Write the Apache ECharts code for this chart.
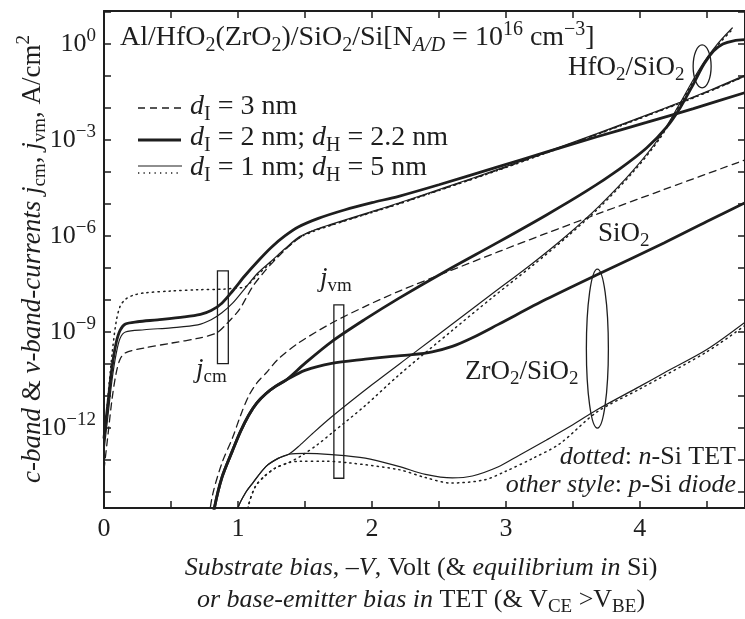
<!DOCTYPE html>
<html><head><meta charset="utf-8">
<script src="https://cdn.jsdelivr.net/npm/echarts@6/dist/echarts.min.js"></script>
<style>html,body{margin:0;padding:0;background:#fff}#c{width:745px;height:619px}</style>
</head><body><div id="c"></div>
<script>
// ---- data: [bias (V), log10(current density, A/cm^2)] ----
const xTickLabels = [0, 1, 2, 3, 4];
const yTickExps = [-14,-13,-12,-11,-10,-9,-8,-7,-6,-5,-4,-3,-2,-1,0,1];
const yLabelExps = [-12, -9, -6, -3, 0];

// c-band currents j_cm
const cmThick2 = [[0,-12.3],[0.03,-11.2],[0.06,-10.1],[0.09,-9.35],[0.12,-8.95],[0.16,-8.75],[0.25,-8.68],[0.4,-8.62],[0.6,-8.53],[0.72,-8.45],[0.8,-8.33],[0.88,-8.1],[0.96,-7.72],[1.05,-7.25],[1.15,-6.78],[1.25,-6.35],[1.35,-6.0],[1.45,-5.72],[1.6,-5.45],[1.8,-5.18],[2.0,-4.96],[2.2,-4.76],[2.5,-4.4],[2.94,-3.84],[3.3,-3.38],[3.68,-2.9],[4.05,-2.45],[4.4,-2.02],[4.8,-1.5]];
const cmThin1 = [[0,-12.7],[0.03,-11.6],[0.06,-10.5],[0.09,-9.7],[0.12,-9.2],[0.16,-9.0],[0.3,-8.93],[0.5,-8.87],[0.7,-8.78],[0.8,-8.62],[0.88,-8.4],[0.96,-8.1],[1.05,-7.65],[1.15,-7.15],[1.25,-6.78],[1.35,-6.4],[1.46,-6.02],[1.58,-5.8],[1.7,-5.63],[1.95,-5.3],[2.2,-4.97],[2.57,-4.45],[2.94,-3.92],[3.3,-3.38],[3.68,-2.8],[4.0,-2.3],[4.3,-1.82],[4.55,-1.4],[4.8,-0.95]];
const cmDash3 = [[0,-13.3],[0.03,-12.2],[0.06,-11.1],[0.09,-10.3],[0.12,-9.85],[0.16,-9.65],[0.3,-9.5],[0.5,-9.35],[0.71,-9.19],[0.84,-9.03],[0.91,-8.77],[1.01,-8.3],[1.11,-7.58],[1.2,-7.1],[1.3,-6.65],[1.4,-6.25],[1.5,-5.95],[1.6,-5.78],[1.7,-5.65],[1.95,-5.32],[2.2,-4.99],[2.57,-4.47],[2.94,-3.94],[3.3,-3.4],[3.68,-2.82],[4.0,-2.32],[4.3,-1.84],[4.55,-1.42],[4.8,-0.98]];
const cmDot1 = [[0,-12.5],[0.03,-11.0],[0.06,-9.7],[0.09,-8.7],[0.12,-8.2],[0.16,-7.98],[0.22,-7.85],[0.3,-7.78],[0.5,-7.72],[0.7,-7.68],[0.9,-7.66],[1.0,-7.62],[1.05,-7.6],[1.15,-7.2],[1.25,-6.82],[1.35,-6.43],[1.46,-6.05],[1.58,-5.83],[1.7,-5.66],[1.95,-5.33],[2.2,-5.0],[2.57,-4.48],[2.94,-3.95],[3.3,-3.41],[3.68,-2.83],[4.0,-2.33],[4.3,-1.85],[4.55,-1.43],[4.8,-0.98]];

// v-band currents j_vm
const vmDash3 = [[0.77,-15.2],[0.81,-14.1],[0.88,-13.1],[0.96,-12.3],[1.02,-11.6],[1.08,-11.0],[1.14,-10.6],[1.21,-10.28],[1.3,-9.85],[1.45,-9.35],[1.7,-8.72],[1.95,-8.2],[2.2,-7.73],[2.57,-7.11],[2.94,-6.5],[3.3,-5.92],[3.68,-5.32],[4.18,-4.55],[4.8,-3.6]];
const vmThickShared = [[0.8,-15.2],[0.824,-14.5],[0.88,-13.55],[0.96,-12.7],[1.02,-12.1],[1.08,-11.6],[1.14,-11.22],[1.21,-10.92],[1.28,-10.7],[1.36,-10.5]];
const vmThickHfTail = [[1.5,-9.98],[1.7,-9.3],[1.95,-8.6],[2.2,-7.95],[2.55,-7.1],[2.94,-6.2],[3.3,-5.35],[3.6,-4.6],[3.85,-3.9],[4.05,-3.25],[4.2,-2.6],[4.3,-2.0],[4.4,-1.25],[4.48,-0.62],[4.55,-0.22],[4.62,0.0],[4.7,0.1],[4.8,0.14]];
const vmThickZrTail = [[1.5,-10.2],[1.7,-9.98],[1.95,-9.85],[2.15,-9.76],[2.3,-9.71],[2.45,-9.62],[2.6,-9.45],[2.75,-9.18],[2.94,-8.77],[3.3,-7.98],[3.68,-7.21],[4.18,-6.22],[4.5,-5.55],[4.8,-4.93]];
const vmThinShared = [[0.98,-15.2],[1.0,-14.5],[1.06,-14.0],[1.11,-13.72],[1.21,-13.2],[1.3,-12.95],[1.38,-12.82]];
const vmThinHfTail = [[1.46,-12.55],[1.55,-12.2],[1.7,-11.65],[2.0,-10.65],[2.3,-9.7],[2.6,-8.75],[2.9,-7.8],[3.2,-6.85],[3.45,-6.0],[3.7,-5.05],[3.95,-3.95],[4.15,-2.9],[4.3,-1.85],[4.45,-0.75],[4.58,0.0],[4.69,0.5]];
const vmThinZrTail = [[1.5,-12.79],[1.7,-12.83],[1.95,-12.94],[2.2,-13.2],[2.4,-13.45],[2.6,-13.56],[2.75,-13.5],[2.94,-13.22],[3.1,-12.85],[3.3,-12.38],[3.5,-11.9],[3.68,-11.43],[4.0,-10.7],[4.18,-10.28],[4.5,-9.55],[4.8,-8.65]];
const vmDotShared = [[1.05,-15.2],[1.08,-14.4],[1.13,-13.83],[1.2,-13.5],[1.28,-13.25],[1.38,-13.08]];
const vmDotHfTail = [[1.48,-12.85],[1.6,-12.5],[1.7,-12.16],[1.95,-11.3],[2.2,-10.35],[2.6,-8.95],[2.9,-7.92],[3.2,-6.92],[3.45,-6.05],[3.7,-5.1],[3.95,-4.0],[4.15,-2.95],[4.3,-1.9],[4.45,-0.8],[4.58,-0.05],[4.69,0.45]];
const vmDotZrTail = [[1.46,-13.04],[1.65,-13.04],[1.83,-13.09],[2.2,-13.3],[2.4,-13.55],[2.59,-13.72],[2.84,-13.62],[3.0,-13.35],[3.2,-12.95],[3.4,-12.5],[3.68,-11.5],[4.0,-10.78],[4.5,-9.62],[4.8,-8.75]];

// ---- styling ----
const C = '#1e1e1e';
const F = 'Liberation Serif';
const mkRich = fs => {
  const ss = Math.round(fs * 0.72);
  const pd = Math.round(fs * 0.55), pu = Math.round(fs * 0.62);
  return {
    n:  {fontFamily:F, fontSize:fs, color:C},
    i:  {fontFamily:F, fontSize:fs, fontStyle:'italic', color:C},
    sb: {fontFamily:F, fontSize:ss, color:C, padding:[pd,0,0,0]},
    si: {fontFamily:F, fontSize:ss, fontStyle:'italic', color:C, padding:[pd,0,0,0]},
    sp: {fontFamily:F, fontSize:ss, color:C, padding:[0,0,pu,0]}
  };
};
const R = parts => parts.map(p => '{' + p[0] + '|' + p[1] + '}').join('');

const THICK = 2.8, THIN = 1.2;
const ser = (data, w, type) => ({
  type:'line', data, showSymbol:false, symbol:'none', smooth:0.3,
  lineStyle:{color:C, width:w, type:type || 'solid', cap:'round'}, silent:true, clip:true, z:3
});
const DASH = [7,5], DOT = [1.3,4.2];

const axisCommon = {
  axisLine:{show:true, onZero:false, lineStyle:{color:C, width:2}},
  splitLine:{show:false}
};
const XMAX = 4.785;

const option = {
  animation:false,
  backgroundColor:'#fff',
  grid:{left:104, top:11, right:-3, bottom:111},
  xAxis:[
    Object.assign({type:'value', min:0, max:XMAX, interval:0.5, position:'bottom',
      axisTick:{inside:true, length:7, lineStyle:{color:C, width:1.5}},
      axisLabel:{margin:8, fontFamily:F, fontSize:26, color:C, showMaxLabel:false,
        formatter: v => xTickLabels.includes(v) ? String(v) : ''}}, axisCommon),
    Object.assign({type:'value', min:0, max:XMAX, interval:0.5, position:'top',
      axisTick:{inside:true, length:7, lineStyle:{color:C, width:1.5}},
      axisLabel:{show:false}}, axisCommon)
  ],
  yAxis:[
    Object.assign({type:'value', min:-14.5, max:1.03, position:'left',
      axisTick:{inside:true, length:7, customValues:yTickExps, lineStyle:{color:C, width:1.5}},
      axisLabel:{margin:8, customValues:yLabelExps, rich:{
          b:{fontFamily:F, fontSize:26, color:C},
          s:{fontFamily:F, fontSize:19, color:C, padding:[0,0,16,0]}},
        formatter: v => '{b|10}{s|' + (v < 0 ? '\u2212' + (-v) : v) + '}'}}, axisCommon),
    Object.assign({type:'value', min:-14.5, max:1.03, position:'right',
      axisTick:{inside:true, length:7, customValues:yTickExps, lineStyle:{color:C, width:1.5}},
      axisLabel:{show:false}}, axisCommon)
  ],
  series:[
    ser(cmThick2, THICK),
    ser(cmThin1, THIN),
    ser(cmDash3, 1.3, DASH),
    ser(cmDot1, 1.5, DOT),
    ser(vmDash3, 1.3, DASH),
    ser(vmThickShared.concat(vmThickHfTail), THICK),
    ser(vmThickShared.concat(vmThickZrTail), THICK),
    ser(vmThinShared.concat(vmThinHfTail), THIN),
    ser(vmThinShared.concat(vmThinZrTail), THIN),
    ser(vmDotShared.concat(vmDotHfTail), 1.5, DOT),
    ser(vmDotShared.concat(vmDotZrTail), 1.5, DOT)
  ]
};

const chart = echarts.init(document.getElementById('c'), null, {renderer:'canvas'});
chart.setOption(option);

// ---- annotations (placed in data coordinates) ----
const P = (x, y) => chart.convertToPixel({gridIndex:0}, [x, y]);
const txt = (x, y, fs, parts, align, extra) => Object.assign({
  type:'text', x, y, z:10, silent:true,
  style:{text:R(parts), rich:mkRich(fs), align:align || 'left', verticalAlign:'middle',
         textAlign:align || 'left', textVerticalAlign:'middle', fill:C}
}, extra || {});
const lineG = (x1, y1, x2, y2, w, dash) => ({type:'line', z:10, silent:true,
  shape:{x1, y1, x2, y2}, style:{stroke:C, lineWidth:w, lineDash:dash || null}});

const rectCm = [0.847, 0.928, -7.09, -9.99];
const rectVm = [1.716, 1.79, -8.15, -13.57];
const ellHf = [4.465, -0.7, 9, 21.5];
const ellZr = [3.683, -9.52, 11, 79.5];

const rectG = r => { const a = P(r[0], r[2]), b = P(r[1], r[3]);
  return {type:'rect', z:10, silent:true, shape:{x:a[0], y:a[1], width:b[0]-a[0], height:b[1]-a[1]},
    style:{fill:'none', stroke:C, lineWidth:1.3}}; };
const ellG = e => { const c = P(e[0], e[1]);
  return {type:'ellipse', z:10, silent:true, shape:{cx:c[0], cy:c[1], rx:e[2], ry:e[3]},
    style:{fill:'none', stroke:C, lineWidth:1.3}}; };

const graphics = [
  txt(120, 38, 28, [['n','Al/HfO'],['sb','2'],['n','(ZrO'],['sb','2'],['n',')/SiO'],['sb','2'],['n','/Si[N'],['si','A/D'],['n',' = 10'],['sp','16'],['n',' cm'],['sp','\u22123'],['n',']']]),
  lineG(138, 108, 181, 108, 1.3, DASH),
  lineG(138, 140, 181, 140, THICK),
  lineG(138, 166, 182, 166, THIN),
  lineG(138, 173, 182, 173, 1.5, DOT),
  txt(190, 107, 28, [['i','d'],['sb','I'],['n',' = 3 nm']]),
  txt(190, 138, 28, [['i','d'],['sb','I'],['n',' = 2 nm; '],['i','d'],['sb','H'],['n',' = 2.2 nm']]),
  txt(190, 168, 28, [['i','d'],['sb','I'],['n',' = 1 nm; '],['i','d'],['sb','H'],['n',' = 5 nm']]),
  txt(568, 68, 27, [['n','HfO'],['sb','2'],['n','/SiO'],['sb','2']]),
  txt(598, 234, 27, [['n','SiO'],['sb','2']]),
  txt(465, 372, 27, [['n','ZrO'],['sb','2'],['n','/SiO'],['sb','2']]),
  txt(196, 370, 27, [['i','j'],['sb','cm']]),
  txt(320, 279, 27, [['i','j'],['sb','vm']]),
  txt(736, 457, 26, [['i','dotted'],['n',': '],['i','n'],['n','-Si TET']], 'right'),
  txt(736, 485, 26, [['i','other style'],['n',': '],['i','p'],['n','-Si '],['i','diode']], 'right'),
  txt(421, 568, 26, [['i','Substrate bias'],['n',', \u2013'],['i','V'],['n',', Volt (& '],['i','equilibrium in'],['n',' Si)']], 'center'),
  txt(421, 600, 26, [['i','or base'],['n','-'],['i','emitter bias in'],['n',' TET (& V'],['sb','CE'],['n',' >V'],['sb','BE'],['n',')']], 'center'),
  txt(33, 259, 27, [['i','c-band'],['n',' & '],['i','v-band-currents j'],['sb','cm'],['n',', '],['i','j'],['sb','vm'],['n',', A/cm'],['sp','2']], 'center', {rotation:Math.PI/2}),
  rectG(rectCm), rectG(rectVm), ellG(ellHf), ellG(ellZr)
];
chart.setOption({graphic:graphics});
</script></body></html>
